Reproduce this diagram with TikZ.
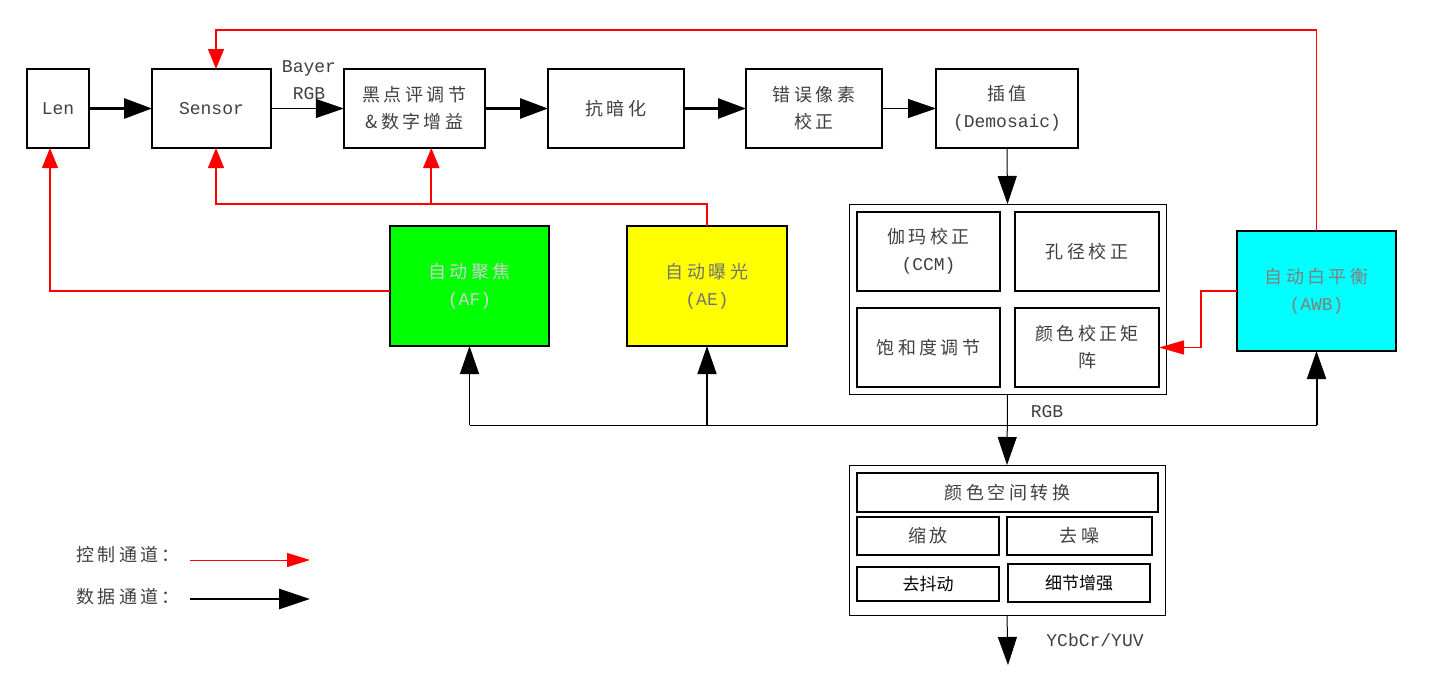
\documentclass[tikz,border=0pt]{standalone}
\usepackage{fontspec}
\setmainfont{Liberation Mono}
\newfontfamily\cjk[LetterSpace=19]{Noto Sans CJK SC}
\newfontfamily\cjkn{Noto Sans CJK SC}
\usetikzlibrary{arrows.meta}
\definecolor{afgreen}{RGB}{0,255,0}
\definecolor{aeyellow}{RGB}{255,255,0}
\definecolor{awbcyan}{RGB}{0,255,255}
\definecolor{ctrlred}{RGB}{255,0,0}
\tikzset{
  every node/.style={font=\fontsize{18}{27}\selectfont, text=black!75, inner sep=0pt, outer sep=0pt, align=center},
  box/.style={draw=black, line width=1.8pt, minimum height=79pt},
  cbox/.style={draw=black, line width=1.8pt, minimum height=120pt},
  frame/.style={draw=black, line width=1pt},
  ibox/.style={draw=black, line width=1.5pt},
  dthick/.style={draw=black, line width=2.8pt, -{Triangle[length=28pt,width=20pt]}},
  dthin/.style={draw=black, line width=1pt, -{Triangle[length=28pt,width=19pt]}},
  ctrl/.style={draw=ctrlred, line width=1.5pt, -{Triangle[length=20pt,width=16pt]}},
}
\begin{document}
\begin{tikzpicture}[x=1pt,y=-1pt]
\useasboundingbox[fill=white] (0,0) rectangle (1443,680);

% top row
\node[box, minimum width=62pt] (len) at (58,108.5) {Len};
\node[box, minimum width=119pt] (sensor) at (211.5,108.5) {Sensor};
\node[box, minimum width=141pt] (bp) at (414.3,108.5) {{\cjk 黑点评调节}\\{\cjk\&数字增益}};
\node[box, minimum width=136pt] (ah) at (616,108.5) {\cjk 抗暗化};
\node[box, minimum width=136pt] (bpc) at (814,108.5) {{\cjk 错误像素}\\{\cjk 校正}};
\node[box, minimum width=142pt] (dm) at (1007,108.5) {{\cjk 插值}\\(Demosaic)};
\node (bayer) at (309,80) {Bayer\\RGB};

% 3A boxes
\node[cbox, fill=afgreen, minimum width=159pt, text=white!82!black] (af) at (469.5,286) {{\cjk 自动聚焦}\\(AF)};
\node[cbox, fill=aeyellow, minimum width=160pt, text=black!55] (ae) at (707,286) {{\cjk 自动曝光}\\(AE)};
\node[cbox, fill=awbcyan, minimum width=159pt, text=black!50] (awb) at (1316.5,291) {{\cjk 自动白平衡}\\(AWB)};

% ISP block
\node[frame, minimum width=317pt, minimum height=190pt] (isp) at (1007.5,299) {};
\node[ibox, minimum width=143pt, minimum height=79pt] (gm) at (928.5,251.5) {{\cjk 伽玛校正}\\(CCM)};
\node[ibox, minimum width=144pt, minimum height=79pt] (ap) at (1087,251.5) {\cjk 孔径校正};
\node[ibox, minimum width=143pt, minimum height=79pt] (sat) at (928.5,347.5) {\cjk 饱和度调节};
\node[ibox, minimum width=144pt, minimum height=79pt] (cm) at (1087,347.5) {{\cjk 颜色校正矩}\\{\cjk 阵}};

% post block
\node[frame, minimum width=316pt, minimum height=150pt] (post) at (1007,540) {};
\node[ibox, minimum width=301pt, minimum height=39pt] (csc) at (1007.5,492.5) {\cjk 颜色空间转换};
\node[ibox, minimum width=142pt, minimum height=38pt] (sc) at (928,536) {\cjk 缩放};
\node[ibox, minimum width=145pt, minimum height=38pt] (dn) at (1079.5,536) {\cjk 去噪};
\node[ibox, line width=2pt, minimum width=142pt, minimum height=34pt, text=black] (dj) at (928,584) {\fontsize{17}{20}\cjkn 去抖动};
\node[ibox, line width=2pt, minimum width=142pt, minimum height=38pt, text=black] (de) at (1079,583) {\fontsize{17}{20}\cjkn 细节增强};

\node (rgb) at (1047,412) {RGB};
\node (yuv) at (1095,640) {YCbCr/YUV};

% data path
\draw[dthick] (len.east) -- (sensor.west);
\draw[dthin] (sensor.east) -- (bp.west);
\draw[dthick] (bp.east) -- (ah.west);
\draw[dthick] (ah.east) -- (bpc.west);
\draw[dthin] (bpc.east) -- (dm.west);
\draw[dthin] (dm.south) -- (isp.north);
\draw[dthin] (isp.south) -- (post.north);
\coordinate (out) at (1008,665);
\draw[dthin] (post.south) -- (out);

% statistics bus
\coordinate (bus) at (0,425);
\draw[black, line width=1pt] (af.south |- bus) -- (awb.south |- bus);
\draw[dthin, line width=1.3pt] (af.south |- bus) -- (af.south);
\draw[dthin, line width=1.5pt] (ae.south |- bus) -- (ae.south);
\draw[dthin, line width=2pt] (awb.south |- bus) -- (awb.south);

% control path
\coordinate (rt) at (0,30);
\coordinate (rb) at (0,204);
\draw[ctrl] (awb.north) -- (awb.north |- rt) -| ([xshift=4.5pt]sensor.north);
\draw[ctrl] (ae.north) -- (ae.north |- rb) -| ([xshift=4.5pt]sensor.south);
\draw[ctrl, line width=2pt] ([xshift=17pt]bp.south |- rb) -- ([xshift=17pt]bp.south);
\draw[ctrl, line width=1.2pt] ([yshift=-5pt]af.west) -| ([xshift=-8pt]len.south);
\draw[ctrl, line width=1.2pt, -{Triangle[length=25pt,width=14pt]}] (awb.west) -- ++(-36,0) |- (cm.east);

% legend
\node (lg1) at (128,555) {\cjk 控制通道：};
\node (lg2) at (128,597) {\cjk 数据通道：};
\coordinate (l1a) at (190,560);
\coordinate (l1b) at (310,560);
\coordinate (l2a) at (190,599);
\coordinate (l2b) at (310,599);
\draw[ctrl, line width=1pt, -{Triangle[length=23pt,width=14pt]}] (l1a) -- (l1b);
\draw[dthick, -{Triangle[length=31pt,width=20pt]}] (l2a) -- (l2b);
\end{tikzpicture}
\end{document}
